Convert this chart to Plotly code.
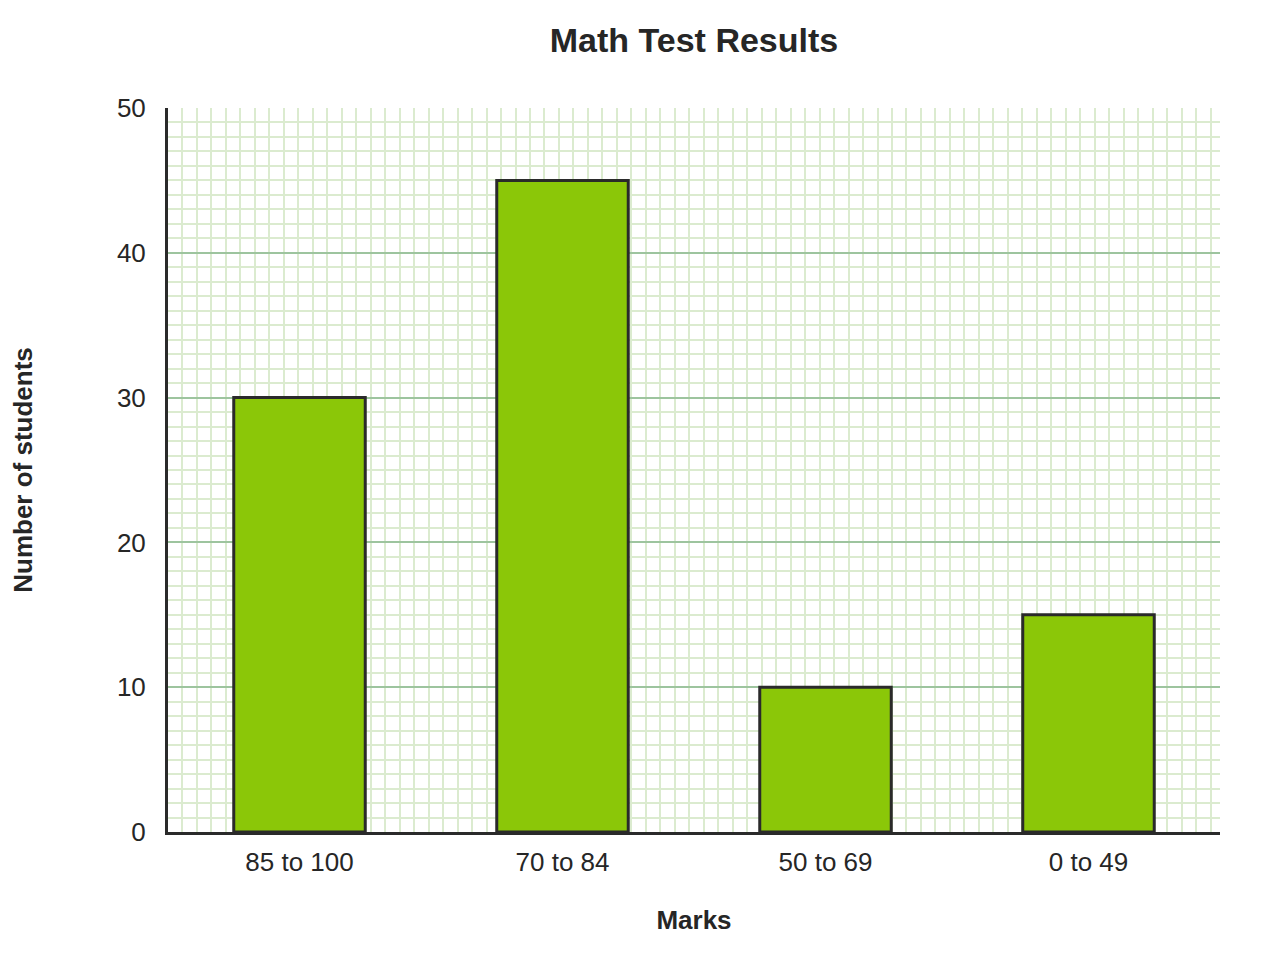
import plotly.graph_objects as go

categories = ["85 to 100", "70 to 84", "50 to 69", "0 to 49"]
students = [30, 45, 10, 15]
y_ticks = [0, 10, 20, 30, 40, 50]

W, H = 1280, 980
# page body adds an 8px offset, margins compensate
ML, MR, MT, MB = 160, 68, 100, 156
plot_w = W - ML - MR
plot_h = H - MT - MB
y_max = 50
n_cat = len(categories)
# square minor grid: same pixel spacing as 1 y unit
minor_dx = (plot_h / y_max) / (plot_w / n_cat)

FONT = "Liberation Sans, Arial, sans-serif"
TXT = "#262626"

fig = go.Figure(
    go.Bar(
        x=list(range(n_cat)),
        y=students,
        width=0.5,
        marker=dict(color="#8bc708", line=dict(color="#2a2a2a", width=3)),
        hoverinfo="y",
    )
)

fig.update_layout(
    width=W,
    height=H,
    margin=dict(l=ML, r=MR, t=MT, b=MB, autoexpand=False),
    paper_bgcolor="white",
    plot_bgcolor="white",
    showlegend=False,
    title=dict(
        text="<b>Math Test Results</b>",
        x=(ML + plot_w / 2) / W,
        xanchor="center",
        y=1 - 32 / H,
        yanchor="middle",
        font=dict(family=FONT, size=34, color=TXT),
    ),
    font=dict(family=FONT, color=TXT),
)

fig.update_xaxes(
    range=[-0.5, n_cat - 0.5],
    tickvals=list(range(n_cat)),
    ticktext=categories,
    tickfont=dict(size=26, color=TXT),
    ticks="outside",
    ticklen=5,
    tickcolor="rgba(0,0,0,0)",
    showgrid=False,
    zeroline=False,
    showline=True,
    linecolor="#2a2a2a",
    linewidth=3,
    minor=dict(
        tick0=-0.5,
        dtick=minor_dx,
        showgrid=True,
        gridcolor="#dbebcf",
        gridwidth=2,
        ticks="",
    ),
    title=dict(
        text="<b>Marks</b>",
        font=dict(size=26, color=TXT),
        standoff=35,
    ),
    fixedrange=True,
    automargin=False,
)

fig.update_yaxes(
    range=[0, y_max],
    tickvals=y_ticks,
    tickfont=dict(size=26, color=TXT),
    ticks="outside",
    ticklen=14,
    tickcolor="rgba(0,0,0,0)",
    showgrid=True,
    gridcolor="#9dc49e",
    gridwidth=2,
    zeroline=False,
    showline=True,
    linecolor="#2a2a2a",
    linewidth=3,
    minor=dict(
        dtick=1,
        showgrid=True,
        gridcolor="#dbebcf",
        gridwidth=2,
        ticks="",
    ),
    title=dict(
        text="<b>Number of students</b>",
        font=dict(size=26, color=TXT),
        standoff=79,
    ),
    fixedrange=True,
    automargin=False,
)

fig.write_html("out.html", config={"displayModeBar": False})
